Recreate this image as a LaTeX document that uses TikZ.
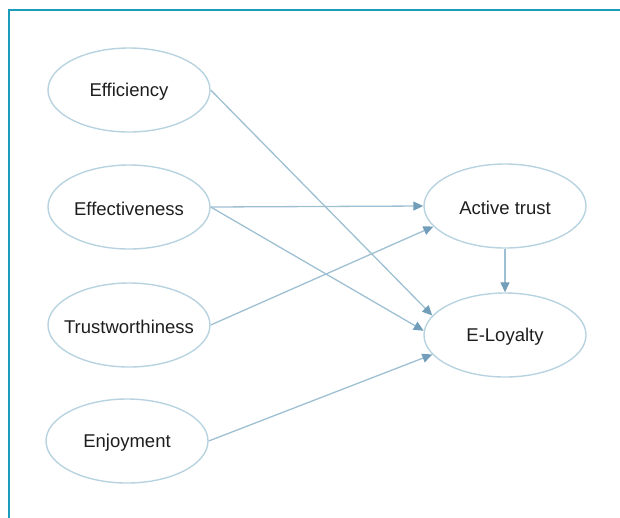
\documentclass[tikz,border=0pt]{standalone}
\usepackage{fontspec}
\setmainfont{Liberation Sans}
\usepackage{tikz}
\usetikzlibrary{shapes.geometric,arrows.meta}

\definecolor{framecol}{RGB}{27,156,186}
\definecolor{ovalcol}{RGB}{184,211,224}
\definecolor{linecol}{RGB}{158,192,210}
\definecolor{tipcol}{RGB}{115,158,185}
\definecolor{textcol}{RGB}{30,30,30}

\begin{document}
\begin{tikzpicture}[x=1pt,y=-1pt]
        \tikzstyle{every node}=[font=\fontsize{18.5}{20}\selectfont,text=textcol]
        \tikzstyle{every label}=[yshift=-2pt]
        \tikzstyle{oval}=[draw=ovalcol,line width=1.4pt,shape=ellipse,minimum width=162pt,minimum height=84pt]
        \tikzstyle{arr}=[draw=linecol,line width=1.3pt,-{Triangle[length=10pt,width=9pt,fill=tipcol,color=tipcol]}]

            \useasboundingbox (0,0) rectangle (620,517);
            \draw[framecol,line width=2.6pt] (9,518) -- (9,10) -- (621,10);

            \node[oval,label=center:Efficiency] (ef) at (129,90) {};
            \node[oval,label=center:Effectiveness] (ev) at (129,207) {};
            \node[oval,label=center:Trustworthiness] (tw) at (129,325) {};
            \node[oval,label=center:Enjoyment] (en) at (127,441) {};
            \node[oval,label=center:Active trust] (at) at (505,206) {};
            \node[oval,label=center:E-Loyalty] (el) at (505,335) {};

            \path (ef.east) edge[arr] (el.165)
            (ev.east) edge[arr] (at.west)
            (ev.east) edge[arr] (el.177)
            (tw.east) edge[arr] (at.196)
            (en.east) edge[arr] (el.195)
            (at.south) edge[arr] (el.north)
            ;
        \end{tikzpicture}
\end{document}
